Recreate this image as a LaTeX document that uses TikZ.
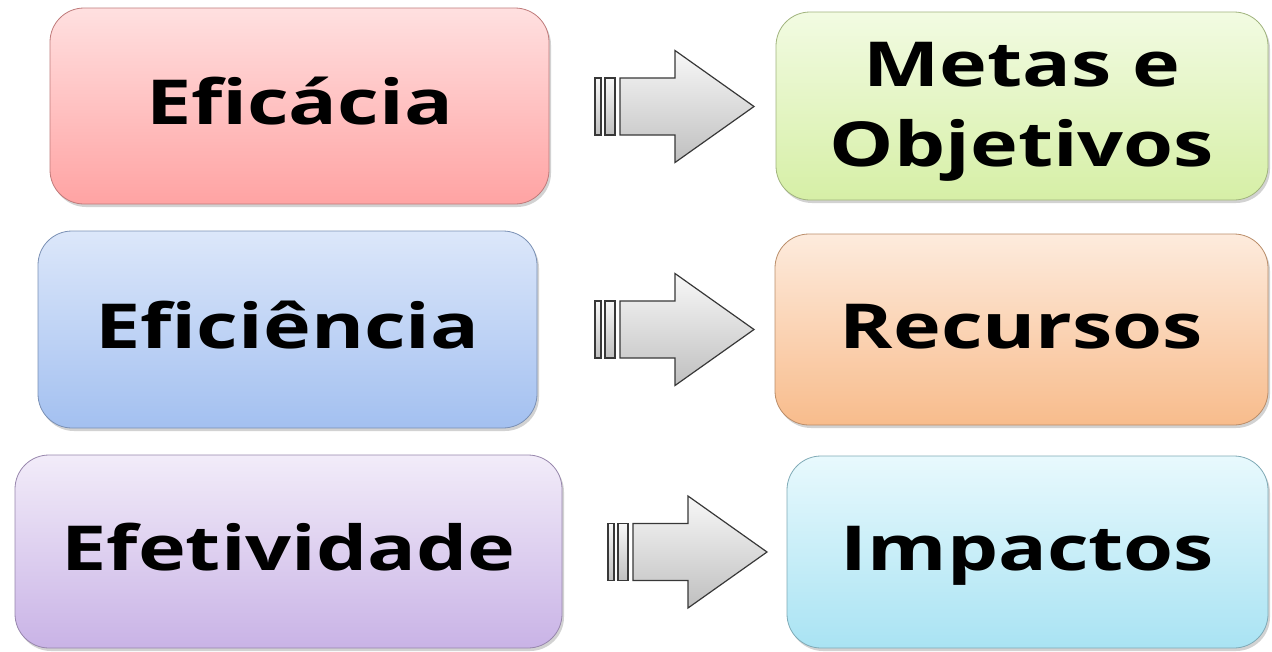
\documentclass[tikz,border=0pt]{standalone}
\usepackage{fontspec}
\setmainfont{Open Sans}
\usetikzlibrary{shadows}
\newcommand{\wtext}[1]{\scalebox{1.305}[1]{#1}}
\tikzset{
  x=1pt, y=-1pt,
  box/.style={rectangle, rounded corners=34pt, draw=#1!75!black, line width=0.8pt,
     inner sep=0pt, font=\fontsize{62}{80}\selectfont\bfseries,
     text height=49.6pt, text depth=12.4pt,
     drop shadow={shadow xshift=2pt, shadow yshift=-3pt, fill=black!35, opacity=0.5}},
  arrowpart/.style={draw=black!78, line width=1.2pt, top color=gray!6, bottom color=gray!50, line join=miter},
}
\definecolor{pinkT}{HTML}{FFE0E0}\definecolor{pinkB}{HTML}{FFA3A3}
\definecolor{blueT}{HTML}{DCE7FA}\definecolor{blueB}{HTML}{A3C0F0}
\definecolor{purT}{HTML}{F2ECF9}\definecolor{purB}{HTML}{C9B3E6}
\definecolor{grnT}{HTML}{F2FBE2}\definecolor{grnB}{HTML}{D6EFA6}
\definecolor{orT}{HTML}{FDEBDD}\definecolor{orB}{HTML}{F8BC8C}
\definecolor{cyT}{HTML}{E8F9FD}\definecolor{cyB}{HTML}{A9E3F3}
\tikzset{
  bigarrow/.pic={
    \path[arrowpart] (0,-28.5) rectangle (6,28.5);
    \path[arrowpart] (10,-28.5) rectangle (20,28.5);
    \path[arrowpart] (25,-28.5) -- (80,-28.5) -- (80,-56) -- (159,0) -- (80,56) -- (80,28.5) -- (25,28.5) -- cycle;
  }
}
\begin{document}
\begin{tikzpicture}
\useasboundingbox (0,0) rectangle (1272,651);
\node[box=pinkB, top color=pinkT, bottom color=pinkB, minimum width=499pt, minimum height=196pt] (a1) at (299.5,106) {\wtext{Eficácia}};
\node[box=blueB, top color=blueT, bottom color=blueB, minimum width=499pt, minimum height=197pt] (a2) at (287.5,329.5) {\wtext{Eficiência}};
\node[box=purB, top color=purT, bottom color=purB, minimum width=547pt, minimum height=193pt] (a3) at (288.5,551.5) {\wtext{Efetividade}};
\node[box=grnB, top color=grnT, bottom color=grnB, minimum width=492pt, minimum height=188pt, text height=10pt, text depth=48.6pt] (b1) at (1022,106)
  {\begin{tabular}[t]{@{}c@{}}\wtext{Metas e}\\\wtext{Objetivos}\end{tabular}};
\node[box=orB, top color=orT, bottom color=orB, minimum width=493pt, minimum height=191pt] (b2) at (1021.5,329.5) {\wtext{Recursos}};
\node[box=cyB, top color=cyT, bottom color=cyB, minimum width=481pt, minimum height=192pt] (b3) at (1027.5,552) {\wtext{Impactos}};
\pic at (595,106.5) {bigarrow};
\pic at (595,329.5) {bigarrow};
\pic at (608,552) {bigarrow};
\end{tikzpicture}
\end{document}
